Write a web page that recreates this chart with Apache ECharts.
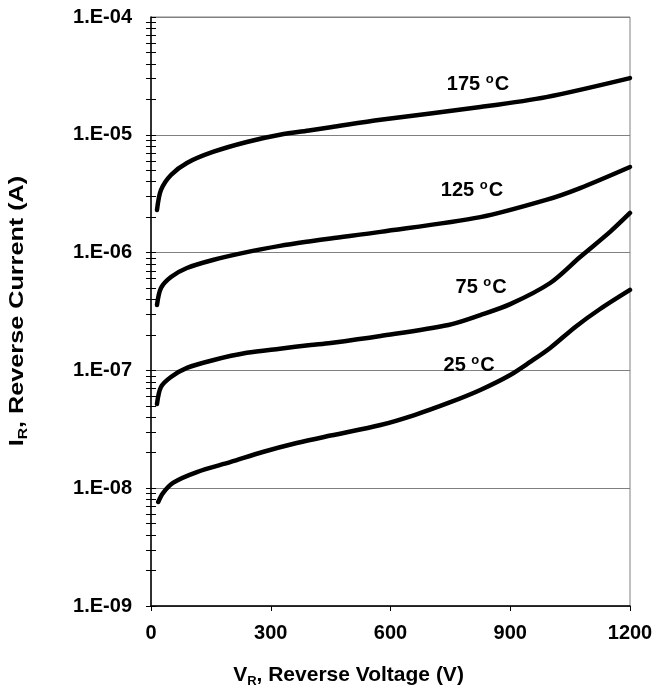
<!DOCTYPE html>
<html>
<head>
<meta charset="utf-8">
<script src="https://cdn.jsdelivr.net/npm/echarts@6/dist/echarts.min.js"></script>
<style>
html,body{margin:0;padding:0;background:#fff;}
#chart{width:666px;height:687px;}
</style>
</head>
<body>
<div id="chart"></div>
<script>
// ---- data ----
const xTicks = [0, 300, 600, 900, 1200];
const yTickLabels = ['1.E-09', '1.E-08', '1.E-07', '1.E-06', '1.E-05', '1.E-04'];
const decades = [-9, -8, -7, -6, -5];
const minorMultipliers = [1, 2, 3, 4, 5, 6, 7, 8, 9];

const v175 = [15, 25, 50, 90, 155, 240, 323, 400, 450, 575, 825, 990, 1200];
const i175 = [2.30e-6, 3.40e-6, 4.56e-6, 5.77e-6, 7.15e-6, 8.69e-6, 1.00e-5, 1.094e-5, 1.159e-5, 1.34e-5, 1.72e-5, 2.09e-5, 3.03e-5];

const v125 = [15, 25, 50, 90, 155, 240, 323, 400, 450, 575, 825, 990, 1075, 1200];
const i125 = [3.59e-7, 5.01e-7, 6.21e-7, 7.40e-7, 8.66e-7, 1.01e-6, 1.14e-6, 1.25e-6, 1.32e-6, 1.50e-6, 2.00e-6, 2.80e-6, 3.53e-6, 5.33e-6];

const v75 = [15, 25, 50, 90, 155, 240, 323, 400, 450, 575, 745, 825, 900, 1000, 1075, 1150, 1200];
const i75 = [5.19e-8, 7.23e-8, 8.79e-8, 1.05e-7, 1.22e-7, 1.41e-7, 1.53e-7, 1.64e-7, 1.71e-7, 1.96e-7, 2.43e-7, 2.95e-7, 3.65e-7, 5.52e-7, 9.18e-7, 1.50e-6, 2.17e-6];

const v25 = [18, 30, 55, 115, 200, 280, 365, 450, 575, 660, 745, 825, 900, 950, 1000, 1063, 1125, 1200];
const i25 = [7.64e-9, 9.10e-9, 1.11e-8, 1.37e-8, 1.67e-8, 2.03e-8, 2.42e-8, 2.80e-8, 3.44e-8, 4.18e-8, 5.29e-8, 6.82e-8, 9.14e-8, 1.18e-7, 1.55e-7, 2.34e-7, 3.32e-7, 4.82e-7];

const curveNames = ['175', '125', '75', '25'];
const labelV = [819, 804, 827, 797];
const labelI = [2.70e-5, 3.40e-6, 5.1e-7, 1.11e-7];

// ---- build ----
const FONT = '"Liberation Sans", Arial, Helvetica, sans-serif';
const zip = (xs, ys) => xs.map((x, k) => [x, ys[k]]);
const curves = [zip(v175, i175), zip(v125, i125), zip(v75, i75), zip(v25, i25)];

const tickVals = [];
decades.forEach(d => minorMultipliers.forEach(m => tickVals.push(m * Math.pow(10, d))));
tickVals.push(Math.pow(10, -4));

const yLabelFmt = v => yTickLabels[Math.round(Math.log10(v)) + 9];

const baseY = {
  type: 'log', logBase: 10, min: 1e-9, max: 1e-4, position: 'left'
};

const chart = echarts.init(document.getElementById('chart'));
const lineSeries = curves.map((d, k) => ({
  type: 'line', data: d, yAxisIndex: 0, showSymbol: false, smooth: 0.3,
  lineStyle: { color: '#000', width: 4.5, cap: 'round', join: 'round' },
  silent: true, animation: false, z: 3
}));
const labelSeries = {
  type: 'scatter', yAxisIndex: 0, symbolSize: 0, animation: false, silent: true,
  itemStyle: { opacity: 1 },
  data: curveNames.map((n, k) => ({ value: [labelV[k], labelI[k]], name: n })),
  label: {
    show: true, position: 'inside', color: '#000', opacity: 1, textBorderWidth: 0,
    formatter: p => '{n|' + p.name + ' }{s|o}{n|C}',
    rich: {
      n: { fontFamily: FONT, fontWeight: 'bold', fontSize: 20, color: '#000', lineHeight: 22 },
      s: { fontFamily: FONT, fontWeight: 'bold', fontSize: 13, color: '#000', lineHeight: 22, verticalAlign: 'top', padding: [0, 1, 6, 0] }
    }
  }
};

const titleRich = {
  b: { fontFamily: FONT, fontWeight: 'bold', fontSize: 21, color: '#000', lineHeight: 26 },
  sub: { fontFamily: FONT, fontWeight: 'bold', fontSize: 13, color: '#000', lineHeight: 26, verticalAlign: 'bottom', padding: [9, 0, 0, 0] }
};

chart.setOption({
  animation: false,
  backgroundColor: '#fff',
  grid: { left: 151, right: 36, top: 17, bottom: 81, show: true, borderColor: '#808080', borderWidth: 1,
    containLabel: false, outerBoundsMode: 'none' },
  graphic: [{
    type: 'text', x: 17, y: 311, rotation: Math.PI / 2, scaleX: 1.2, silent: true,
    style: {
      text: '{b|I}{sub|R}{b|, Reverse Current (A)}', rich: titleRich,
      align: 'center', verticalAlign: 'middle'
    }
  }],
  xAxis: {
    type: 'value', min: 0, max: 1200, interval: 300,
    axisLine: { show: true, lineStyle: { color: '#000', width: 1.5 } },
    axisTick: { show: true, length: 5, inside: false, lineStyle: { color: '#000', width: 1 } },
    splitLine: { show: false },
    axisLabel: { fontFamily: FONT, fontWeight: 'bold', fontSize: 20, color: '#000', margin: 17,
      formatter: v => String(xTicks[xTicks.indexOf(v)]) },
    name: '{b|V}{sub|R}{b|, Reverse Voltage (V)}',
    nameLocation: 'middle', nameGap: 56,
    nameTextStyle: { padding: [0, 84, 0, 0], rich: titleRich }
  },
  yAxis: [
    Object.assign({}, baseY, {
      axisLine: { show: true, lineStyle: { color: '#000', width: 1.5 } },
      axisTick: { show: true, length: 5, inside: false, customValues: tickVals, lineStyle: { color: '#000', width: 1 } },
      splitLine: { show: false },
      axisLabel: { fontFamily: FONT, fontWeight: 'bold', fontSize: 20, color: '#000', margin: 19, formatter: yLabelFmt }
    }),
    Object.assign({}, baseY, {
      axisLine: { show: false },
      axisTick: { show: true, length: 5, inside: true, customValues: tickVals, lineStyle: { color: '#000', width: 1 } },
      splitLine: { show: false },
      axisLabel: { show: false }
    }),
    Object.assign({}, baseY, {
      axisLine: { show: false },
      axisTick: { show: false },
      splitLine: { show: true, lineStyle: { color: '#808080', width: 1 } },
      axisLabel: { show: false }
    })
  ],
  series: lineSeries.concat([labelSeries])
});
</script>
</body>
</html>
